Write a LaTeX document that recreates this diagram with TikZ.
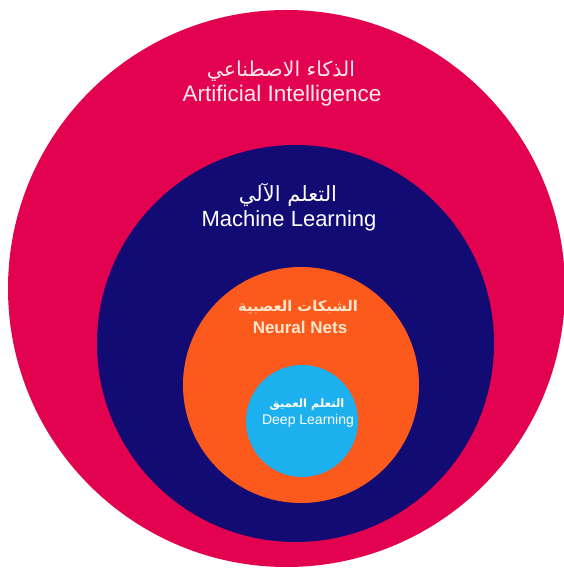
\documentclass[tikz,border=0pt]{standalone}
\usepackage{fontspec}
\setmainfont{Liberation Sans}
\newfontfamily\arabicfont[Script=Arabic]{DejaVu Sans}
\TeXXeTstate=1

\definecolor{aired}{HTML}{E2024F}
\definecolor{mlnavy}{HTML}{120B74}
\definecolor{nnorange}{HTML}{FC5A1C}
\definecolor{dlcyan}{HTML}{1CB0EE}
\definecolor{pinkwhite}{HTML}{FDE8EF}
\definecolor{cream}{HTML}{FFE6CC}

\tikzset{
  entext/.style={inner sep=0pt, text=white},
  artext/.style={inner sep=0pt, text=white, font=\arabicfont}
}

\begin{document}
\begin{tikzpicture}[x=1pt, y=1pt]
            \useasboundingbox (0, 0) rectangle (564, 570);
            %\draw[lightgray] (0, 0) grid[step=50] (564, 570);
            \fill[aired] (286.5, 281.5) circle (278.5);
            \fill[mlnavy] (295.5, 226.5) circle (198.5);
            \fill[nnorange] (301, 185) circle (118);
            \fill[dlcyan] (302, 149) circle (56);
            \node[artext, text=pinkwhite, font=\arabicfont\fontsize{20.5}{24}\selectfont] (ai-ar) at (281, 499) {\beginR الذكاء الاصطناعي\endR};
            \node[entext, text=pinkwhite, font=\fontsize{22.5}{26}\selectfont] (ai-en) at (282, 474) {Artificial Intelligence};
            \node[artext, font=\arabicfont\fontsize{21}{24}\selectfont] (ml-ar) at (288, 375) {\beginR التعلم الآلي\endR};
            \node[entext, font=\fontsize{22}{25}\selectfont] (ml-en) at (289, 349) {Machine Learning};
            \node[artext, text=cream, font=\arabicfont\bfseries\fontsize{14.7}{18}\selectfont] (nn-ar) at (298, 263) {\beginR الشبكات العصبية\endR};
            \node[entext, text=cream, font=\bfseries\fontsize{17}{20}\selectfont] (nn-en) at (300, 243) {Neural Nets};
            \node[artext, font=\arabicfont\bfseries\fontsize{11.5}{14}\selectfont] (dl-ar) at (307, 165) {\beginR التعلم العميق\endR};
            \node[entext, font=\fontsize{14}{17}\selectfont] (dl-en) at (308, 149) {Deep Learning};
\end{tikzpicture}
\end{document}
